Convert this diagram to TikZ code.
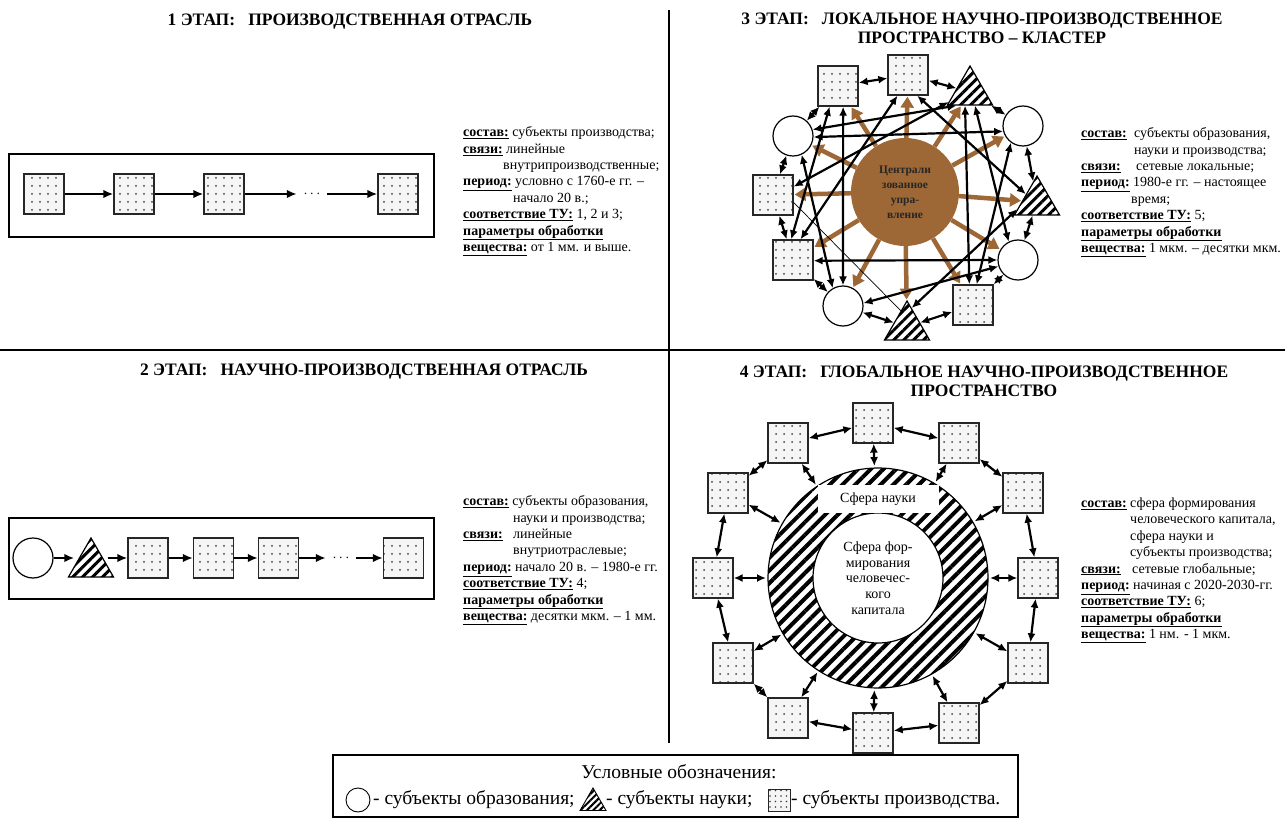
\documentclass[tikz,border=0pt]{standalone}
\usepackage{fontspec}
\setmainfont{Liberation Serif}
\usetikzlibrary{arrows.meta,patterns.meta,shapes.geometric}
\newcommand{\lbl}[1]{\underline{\textbf{#1}}}
\definecolor{brn}{RGB}{158,104,54}
\begin{document}
\begin{tikzpicture}[x=1pt,y=-1pt,
    every node/.style={font=\fontsize{14}{16.4}\selectfont},
    zav/.style={draw=black!85,line width=1.3pt,minimum size=40pt,inner sep=0pt,
        preaction={fill=gray!8},pattern={Dots[distance=8pt,radius=1pt]},pattern color=gray!50!black},
    obr/.style={circle,draw,line width=1.2pt,minimum size=40pt,inner sep=0pt,fill=white},
    nii/.style={regular polygon,regular polygon sides=3,draw,line width=1.2pt,minimum size=52pt,inner sep=0pt,
        preaction={fill=white},pattern={Lines[angle=45,distance=7pt,line width=3pt]}},
    svz/.style={line width=2.3pt,-{Latex[length=10pt,width=8.5pt]}},
    dsvz/.style={line width=2.2pt,{Latex[length=9pt,width=8pt]}-{Latex[length=9pt,width=8pt]}},
    ttl/.style={font=\fontsize{17.5}{19}\selectfont\bfseries,align=center},
    txt/.style={align=left,anchor=north west,inner sep=0pt},
    leg/.style={font=\fontsize{19.5}{22}\selectfont,inner sep=1pt}]
\useasboundingbox (0,0) rectangle (1285,818);
\fill[white] (0,0) rectangle (1285,818);
\draw[line width=1.3pt] (669,10) -- (669,743);
\draw[line width=1.3pt] (0,350) -- (1285,350);
% 1 этап
\node[ttl] (t1) at (350,22) {1 ЭТАП:\ \ \ ПРОИЗВОДСТВЕННАЯ ОТРАСЛЬ};
\node[draw,line width=1.1pt,minimum width=425pt,minimum height=83pt,inner sep=0pt] (f1) at (221.5,195.5) {};
\foreach \n/\x in {1/44,2/134,3/224,4/398} \node[zav] (a\n) at (\x,194) {};
\node[inner sep=0pt,minimum width=30pt] (adots) at (312,194) {$\cdots$};
\draw[svz] (a1) -- (a2);
\draw[svz] (a2) -- (a3);
\draw[svz] (a3) -- (adots);
\draw[svz] (adots) -- (a4);
\node[txt] (d1) at (463,126.5) {\lbl{состав:} субъекты производства;\\
\lbl{связи:} линейные\\
\hspace*{40pt}внутрипроизводственные;\\
\lbl{период:} условно с 1760-е гг. –\\
\hspace*{50pt}начало 20 в.;\\
\lbl{соответствие ТУ:} 1, 2 и 3;\\
\lbl{параметры обработки}\\
\lbl{вещества:} от 1 мм. и выше.};
% 2 этап
\node[ttl] (t2) at (364,372) {2 ЭТАП:\ \ \ НАУЧНО-ПРОИЗВОДСТВЕННАЯ ОТРАСЛЬ};
\node[draw,line width=1.1pt,minimum width=425pt,minimum height=81pt,inner sep=0pt] (f2) at (221.5,558.5) {};
\node[obr] (b0) at (33,558) {};
\node[nii] (b1) at (91,564) {};
\foreach \n/\x in {2/148,3/213.5,4/278.5,5/403.5} \node[zav] (b\n) at (\x,558) {};
\node[inner sep=0pt,minimum width=30pt] (bdots) at (341,558) {$\cdots$};
\draw[svz] (b0) -- (b0 -| b1.west);
\draw[svz] (b2 -| b1.east) -- (b2);
\draw[svz] (b2) -- (b3);
\draw[svz] (b3) -- (b4);
\draw[svz] (b4) -- (bdots);
\draw[svz] (bdots) -- (b5);
\node[txt] (d2) at (463,495.5) {\lbl{состав:} субъекты образования,\\
\hspace*{50pt}науки и производства;\\
\makebox[50pt][l]{\lbl{связи:}}линейные\\
\hspace*{50pt}внутриотраслевые;\\
\lbl{период:} начало 20 в. – 1980-е гг.\\
\lbl{соответствие ТУ:} 4;\\
\lbl{параметры обработки}\\
\lbl{вещества:} десятки мкм. – 1 мм.};
% 3 этап
\node[ttl] (t3) at (982,28) {3 ЭТАП:\ \ \ ЛОКАЛЬНОЕ НАУЧНО-ПРОИЗВОДСТВЕННОЕ\\ПРОСТРАНСТВО – КЛАСТЕР};
\node[circle,fill=brn,minimum size=108pt,inner sep=0pt,align=center,
    font=\fontsize{11.5}{15}\selectfont\bfseries,text=black!85] (upr) at (905,192) {Централи\\зованное\\упра-\\вление};
\node[zav] (k1) at (838,86) {};
\node[zav] (k2) at (908,75) {};
\node[nii] (k3) at (970,92) {};
\node[obr] (k4) at (1023,126) {};
\node[nii] (k5) at (1037,202) {};
\node[obr] (k6) at (1018,260) {};
\node[zav] (k7) at (973,305) {};
\node[nii] (k8) at (907,327) {};
\node[obr] (k9) at (843,306) {};
\node[zav] (k10) at (793,260) {};
\node[zav] (k11) at (773,195) {};
\node[obr] (k12) at (793,136) {};
\foreach \i in {1,...,12} \draw[brn,line width=4.5pt,-{Triangle[length=11pt,width=13pt]},shorten >=1pt] (upr) -- (k\i);
\foreach \i/\j in {1/2,2/3,3/4,4/5,5/6,6/7,7/8,8/9,9/10,10/11,11/12,12/1} \draw[dsvz] (k\i) -- (k\j);
\draw[dsvz] (k3.205) -- (k11.22);
\draw[dsvz] (k12.18) -- (k3.225);
\draw[dsvz] (k12.-3) -- (k4.195);
\draw[dsvz] (k2.243) -- (k10.70);
\draw[dsvz] (k2.294) -- (k5.145);
\draw[dsvz] (k3.250) -- (k7.100);
\draw[dsvz] (k3.290) -- (k6.117);
\draw[dsvz] (k4.234) -- (k7.80);
\draw[line width=0.7pt] (k11.-20) -- (k8.111);
\draw[dsvz] (k12.295) -- (k9.120);
\draw[dsvz] (k1.284) -- (k9.90);
\draw[dsvz] (k1.248) -- (k10.95);
\draw[dsvz] (k10.-2) -- (k6.180);
\draw[dsvz] (k9.8) -- (k6.198);
\draw[dsvz] (k5.200) -- (k8.76);
\node[txt] (d3) at (1081,127.5) {\makebox[53pt][l]{\lbl{состав:}}субъекты образования,\\
\hspace*{53pt}науки и производства;\\
\makebox[55pt][l]{\lbl{связи:}}сетевые локальные;\\
\lbl{период:} 1980-е гг. – настоящее\\
\hspace*{50pt}время;\\
\lbl{соответствие ТУ:} 5;\\
\lbl{параметры обработки}\\
\lbl{вещества:} 1 мкм. – десятки мкм.};
% 4 этап
\node[ttl] (t4) at (984,381) {4 ЭТАП:\ \ \ ГЛОБАЛЬНОЕ НАУЧНО-ПРОИЗВОДСТВЕННОЕ\\ПРОСТРАНСТВО};
\node[circle,draw,line width=1.2pt,minimum size=220pt,inner sep=0pt,preaction={fill=white},
    pattern={Lines[angle=45,distance=9pt,line width=4pt]}] (sfera) at (878,578) {};
\node[circle,draw,line width=1.2pt,minimum size=130pt,inner sep=0pt,fill=white,align=center,
    font=\fontsize{14}{15.7}\selectfont] (kap) at (878,578) {Сфера фор-\\мирования\\человечес-\\кого\\капитала};
\node[fill=white,minimum width=121pt,minimum height=28pt,inner sep=0pt] (nauka) at (878,499) {Сфера науки};
\foreach \n/\x/\y in {1/873/423,2/959/443,3/1023/493,4/1038/578,5/1028/663,6/959/723,
    7/873/733,8/788/718,9/733/663,10/713/578,11/728/493,12/788/443}
    \node[zav] (p\n) at (\x,\y) {};
\foreach \i/\j in {1/2,2/3,3/4,4/5,5/6,6/7,7/8,8/9,9/10,10/11,11/12,12/1} \draw[dsvz] (p\i) -- (p\j);
\foreach \i in {1,...,12} \draw[dsvz] (p\i) -- (sfera);
\node[txt] (d4) at (1081,497.5) {\makebox[49pt][l]{\lbl{состав:}}сфера формирования\\
\hspace*{49pt}человеческого капитала,\\
\hspace*{49pt}сфера науки и\\
\hspace*{49pt}субъекты производства;\\
\makebox[51pt][l]{\lbl{связи:}}сетевые глобальные;\\
\lbl{период:} начиная с 2020-2030-гг.\\
\lbl{соответствие ТУ:} 6;\\
\lbl{параметры обработки}\\
\lbl{вещества:} 1 нм. - 1 мкм.};
% условные обозначения
\node[draw,line width=1.1pt,minimum width=685pt,minimum height=62pt,inner sep=0pt] (legbox) at (675.5,786) {};
\node[leg] (legt) at (679,772) {Условные обозначения:};
\node[obr,minimum size=24pt,line width=0.9pt] (lc) at (358,800) {};
\node[leg,anchor=west] (lct) at (372,800) {- субъекты образования;};
\node[nii,minimum size=30pt,line width=0.9pt,pattern={Lines[angle=45,distance=4.5pt,line width=2pt]}] (lt) at (593,803) {};
\node[leg,anchor=west] (ltt) at (605,800) {- субъекты науки;};
\node[zav,minimum size=22pt,line width=0.9pt,pattern={Dots[distance=5.5pt,radius=0.8pt]}] (lz) at (779,800) {};
\node[leg,anchor=west] (lzt) at (790,800) {- субъекты производства.};
\end{tikzpicture}
\end{document}
